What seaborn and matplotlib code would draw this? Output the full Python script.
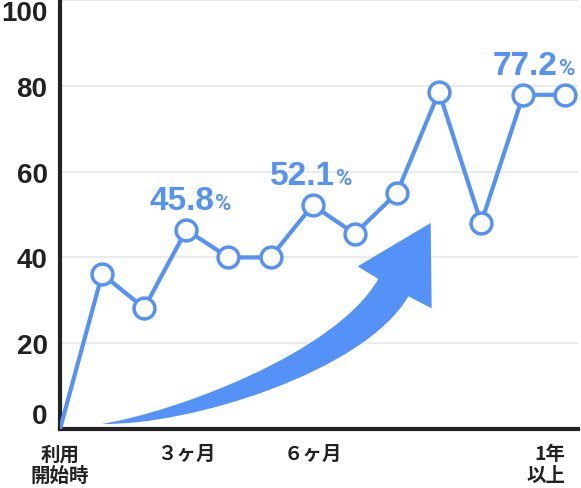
import matplotlib
matplotlib.use("Agg")
import matplotlib.pyplot as plt
import seaborn as sns
import pandas as pd
from matplotlib.path import Path
from matplotlib.patches import PathPatch
from matplotlib.offsetbox import TextArea, HPacker, AnnotationBbox

# ---- data ----
steps = list(range(13))
rates = [0, 36.1, 28.2, 46.4, 40.0, 40.0, 52.2, 45.5, 55.0, 78.6, 48.0, 77.9, 77.9]
tick_steps = [0, 3, 6, 12]
tick_labels = ["利用\n開始時", "３ヶ月", "６ヶ月", "1年\n以上"]
y_ticks = [0, 20, 40, 60, 80, 100]
callout_steps = [3, 6, 11]
callout_texts = ["45.8", "52.1", "77.2"]

BLUE = "#5592F7"
DARK = "#222222"

sns.set_theme(style="white")
plt.rcParams['font.family'] = ['Liberation Sans', 'Noto Sans CJK JP', 'DejaVu Sans']

fig = plt.figure(figsize=(5.81, 4.89), dpi=100)
W, H = 581, 489
ax = fig.add_axes([60 / W, (H - 430) / H, (578 - 60) / W, 429 / H])

df = pd.DataFrame({"step": steps, "rate": rates})

# grid
ax.set_ylim(0, 100)
ax.set_xlim(0, 12.3)
ax.set_yticks(y_ticks)
ax.yaxis.grid(True, color="#e8e8e8", lw=1.2)
ax.xaxis.grid(False)
ax.set_axisbelow(True)

# rising arrow decoration (axes-fraction geometry)
verts = [
    (0.0804, 0.0117),
    (0.2188, 0.0389), (0.5309, 0.1748), (0.6145, 0.3497),
    (0.5747, 0.3792),
    (0.7156, 0.4802),
    (0.7175, 0.2813),
    (0.6725, 0.3093),
    (0.5888, 0.1344), (0.2510, 0.0078), (0.0804, 0.0117),
    (0.0804, 0.0117),
]
codes = [Path.MOVETO,
         Path.CURVE4, Path.CURVE4, Path.CURVE4,
         Path.LINETO, Path.LINETO, Path.LINETO, Path.LINETO,
         Path.CURVE4, Path.CURVE4, Path.CURVE4,
         Path.CLOSEPOLY]
ax.add_patch(PathPatch(Path(verts, codes), transform=ax.transAxes,
                       facecolor=BLUE, edgecolor="none", zorder=2))

sns.lineplot(data=df, x="step", y="rate", ax=ax, color=BLUE, lw=3.0,
             estimator=None, marker="o", markersize=15, markerfacecolor="white",
             markeredgecolor=BLUE, markeredgewidth=2.5,
             markevery=list(range(1, len(steps))), zorder=3)

# callouts
for s, t in zip(callout_steps, callout_texts):
    num = TextArea(t, textprops=dict(fontsize=24, fontweight="bold", color=BLUE,
                                     family="Liberation Sans"))
    pct = TextArea("%", textprops=dict(fontsize=16, fontweight="bold", color=BLUE,
                                       family="Roboto"))
    box = HPacker(children=[num, pct], align="baseline", pad=0, sep=1)
    dx = 8 if s == 11 else (3 if s == 3 else -1)
    ab = AnnotationBbox(box, (s, rates[s]), xybox=(dx, 10), boxcoords="offset points",
                        frameon=False, box_alignment=(0.5, 0), pad=0,
                        annotation_clip=False, zorder=5)
    ax.add_artist(ab)

# spines
for side in ["top", "right"]:
    ax.spines[side].set_visible(False)
for side in ["left", "bottom"]:
    ax.spines[side].set_color(DARK)
    ax.spines[side].set_linewidth(3.0)
    ax.spines[side].set_capstyle("projecting")

ax.set_xticks(tick_steps)
ax.set_xticklabels(tick_labels, fontsize=14, fontweight="bold", color=DARK,
                   family=["Noto Sans CJK JP", "DejaVu Sans"], linespacing=1.18)
ax.set_yticklabels([str(v) for v in y_ticks], fontsize=20, fontweight="bold", color=DARK,
                   family="Liberation Sans")
ax.tick_params(axis="both", length=0)
ax.tick_params(axis="y", pad=9)
ax.tick_params(axis="x", pad=11)
ylabs = ax.get_yticklabels()
ylabs[0].set_va("bottom")
ylabs[-1].set_va("top")
xlabs = ax.get_xticklabels()
xlabs[-1].set_ha("right")
ax.set_xlabel("")
ax.set_ylabel("")

fig.savefig("out.png", dpi=100)
